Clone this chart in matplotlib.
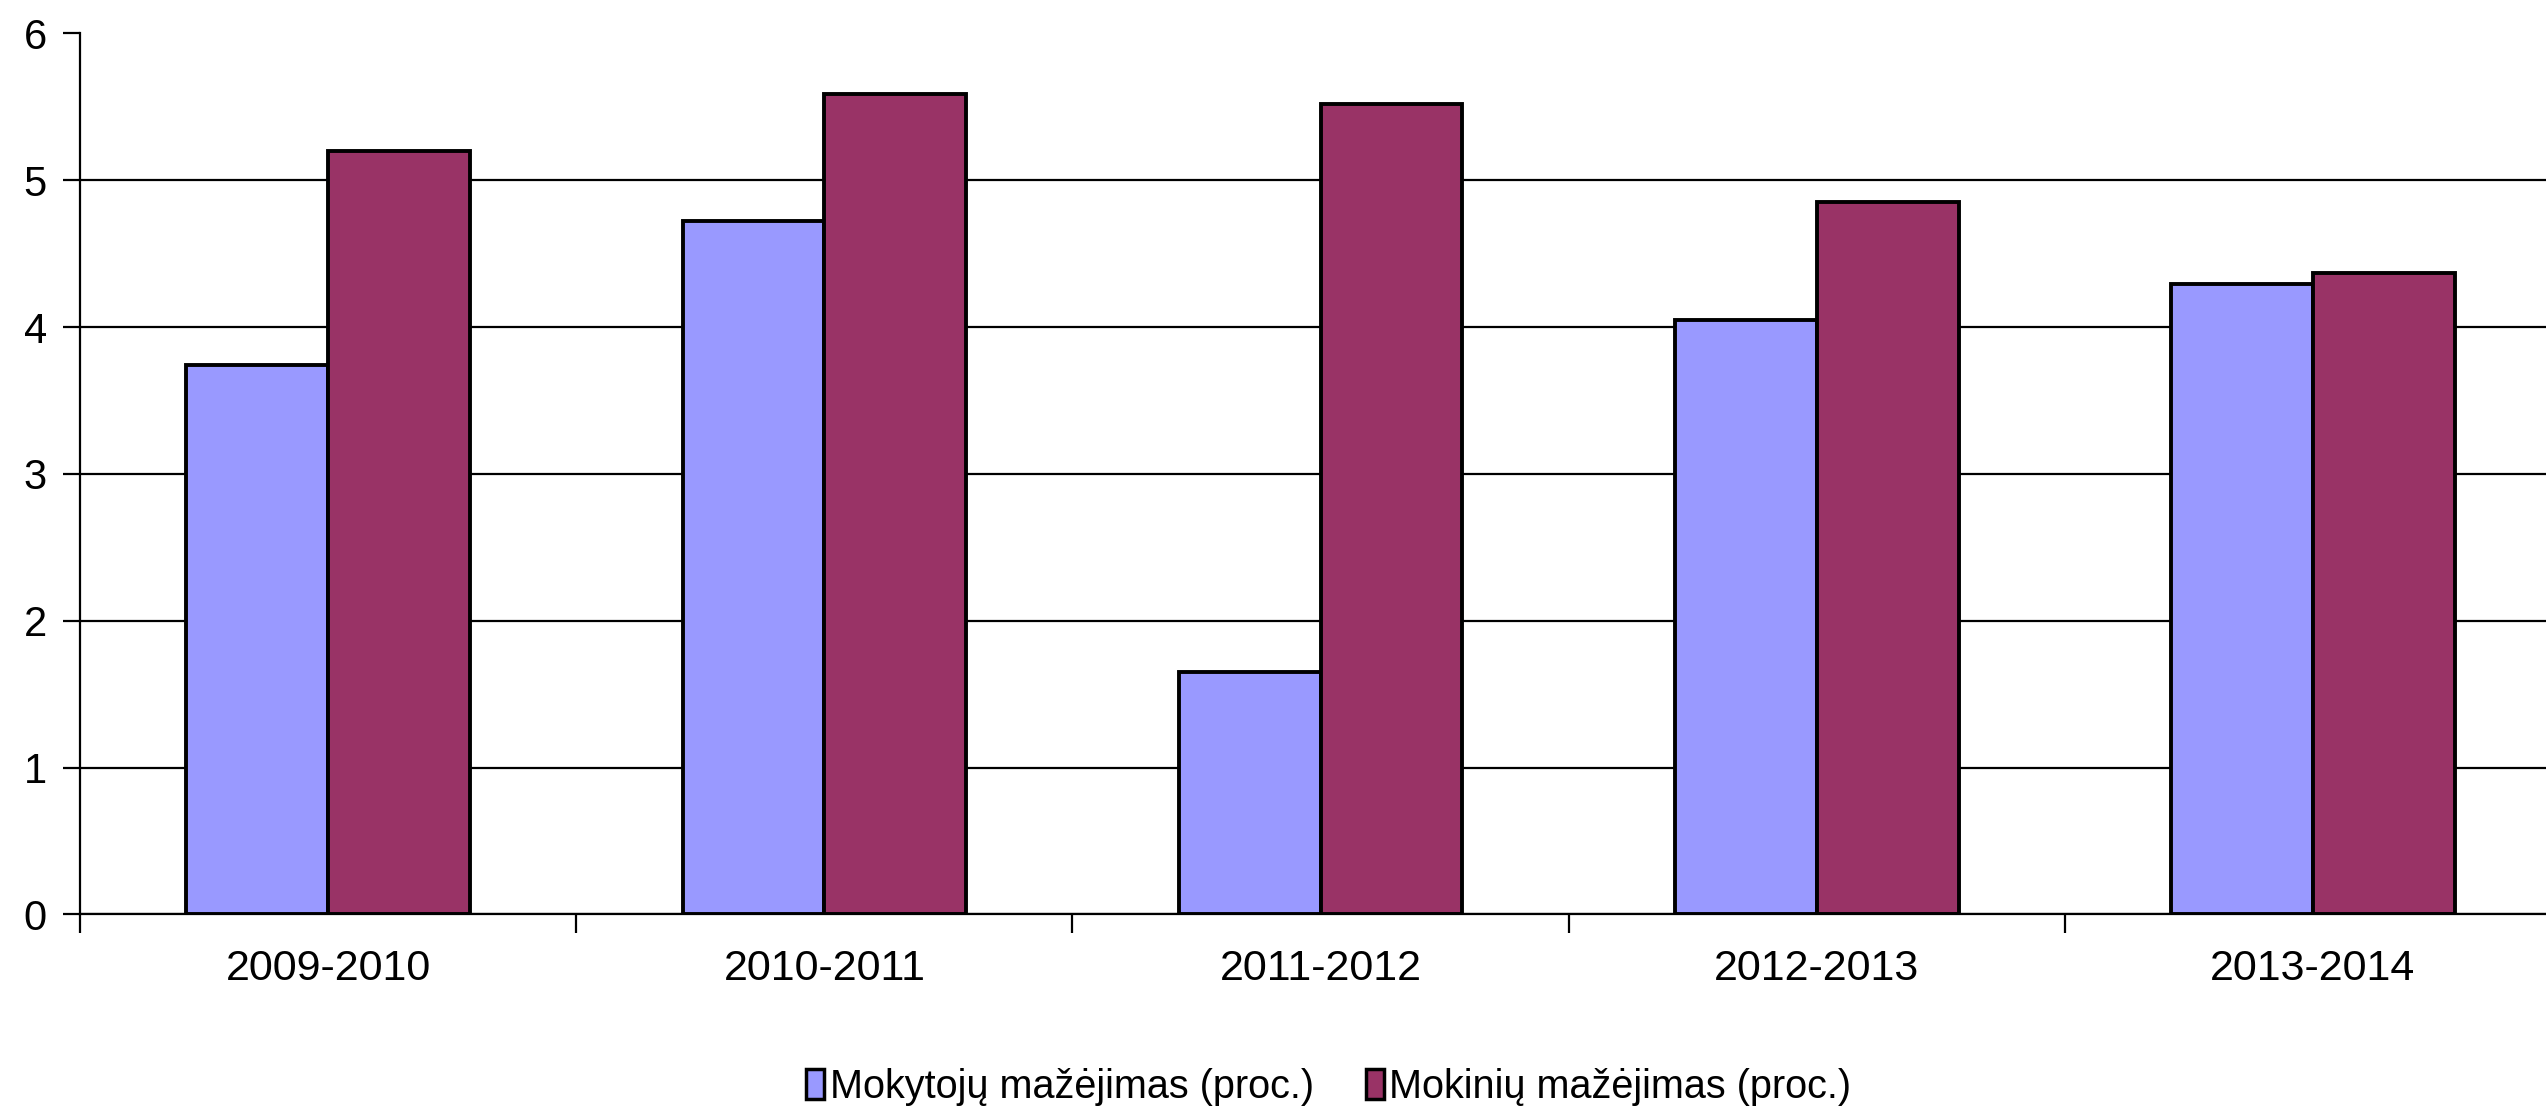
import numpy as np
import matplotlib.pyplot as plt
from matplotlib.patches import Patch

plt.rcParams['font.family'] = ['Liberation Sans', 'DejaVu Sans']

#============================================
# data
years = ['2009-2010', '2010-2011', '2011-2012', '2012-2013', '2013-2014']
mokytoju = [3.74, 4.72, 1.65, 4.05, 4.29]   # teachers decrease (%)
mokiniu = [5.20, 5.59, 5.52, 4.85, 4.37]    # pupils decrease (%)
series_names = ['Mokytojų mažėjimas (proc.)', 'Mokinių mažėjimas (proc.)']
c_list = ['#9999FF', '#993366']

fig = plt.figure(figsize=(25.46, 11.11), dpi=100)
ax = fig.add_axes([0.0315, 0.177, 0.9685, 0.793])

x = np.arange(len(years))
w = 0.286
ax.bar(x - w/2, mokytoju, w, color=c_list[0], edgecolor='black', linewidth=2.8, zorder=3)
ax.bar(x + w/2, mokiniu, w, color=c_list[1], edgecolor='black', linewidth=2.8, zorder=3)

ax.set_ylim(0, 6)
ax.set_yticks(np.arange(0, 7, 1))
ax.set_xlim(-0.5, 4.47)
ax.yaxis.grid(True, color='black', linewidth=1.6, zorder=0)
ax.set_axisbelow(True)
ax.get_ygridlines()[-1].set_visible(False)  # no line at the top value

# category labels at centres, tick marks between categories
ax.set_xticks(np.arange(-0.5, 4, 1))
ax.set_xticklabels([])
ax.set_xticks(x, minor=True)
ax.set_xticklabels(years, minor=True, fontsize=31)
ax.tick_params(axis='x', which='major', length=14, width=1.6, direction='out')
ax.tick_params(axis='x', which='minor', length=0, pad=25)
ax.tick_params(axis='y', length=12, width=1.6, labelsize=30, pad=12)

for s in ['top', 'right']:
    ax.spines[s].set_visible(False)
ax.spines['left'].set_linewidth(1.6)
ax.spines['bottom'].set_linewidth(1.6)

handles = [Patch(facecolor=c_list[i], edgecolor='black', linewidth=2.5) for i in range(2)]
fig.legend(handles, series_names, loc='center', bbox_to_anchor=(0.522, 0.022), ncol=2,
           frameon=False, fontsize=28.5, handlelength=0.45, handleheight=0.8,
           handletextpad=0.15, columnspacing=1.3)

plt.savefig('out.png', dpi=100)
